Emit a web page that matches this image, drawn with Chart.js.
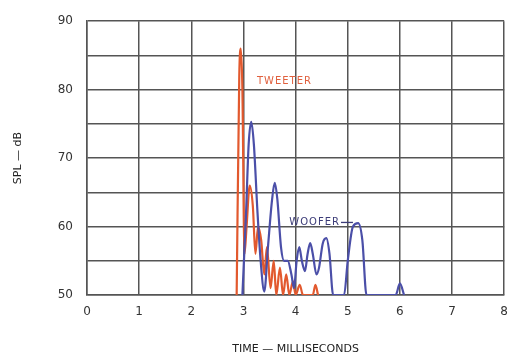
<!DOCTYPE html>
<html>
<head>
<meta charset="utf-8">
<script src="https://cdn.jsdelivr.net/npm/chart.js@4.4.1/dist/chart.umd.min.js"></script>
<style>
  html, body { margin: 0; padding: 0; background: #fff; }
  #wrap { width: 518px; height: 358px; }
</style>
</head>
<body>
<div id="wrap"><canvas id="chart" width="518" height="358"></canvas></div>
<script>
// time in ms, SPL in dB
const tweeterTime = [2.87, 2.92, 2.95, 2.98, 3.02, 3.06, 3.12, 3.18, 3.23, 3.28, 3.34, 3.40, 3.45, 3.52, 3.58, 3.63, 3.70, 3.76, 3.82, 3.88, 3.95, 4.00, 4.08, 4.14, 4.33, 4.38, 4.43];
const tweeterSpl  = [50, 82, 86, 80, 56, 60, 66, 63, 56, 60, 58, 53, 57, 51, 55, 50, 54, 50, 53, 50, 52, 50, 51.5, 50, 50, 51.5, 50];

const wooferTime = [2.98, 3.05, 3.10, 3.15, 3.20, 3.27, 3.33, 3.40, 3.47, 3.55, 3.60, 3.65, 3.72, 3.78, 3.85, 3.92, 3.97, 4.02, 4.07, 4.12, 4.18, 4.23, 4.28, 4.33, 4.40, 4.45, 4.52, 4.59, 4.65, 4.72, 4.93, 5.00, 5.10, 5.20, 5.28, 5.36, 5.92, 6.00, 6.08];
const wooferSpl  = [50, 62, 72, 75.3, 72, 62, 55, 50.5, 57, 64, 66.4, 64, 57, 55, 55, 53, 51, 55, 57, 55, 53.5, 56, 57.6, 56, 53, 54, 57.5, 58.3, 56, 50, 50, 55, 60, 60.5, 58, 50, 50, 51.7, 50];

const xTicks = [0, 1, 2, 3, 4, 5, 6, 7, 8];
const yTicks = [50, 60, 70, 80, 90];

// curve labels placed in data units
const curveLabels = [
  { text: 'TWEETER', x: 3.26, y: 81.2, color: '#e0603e' },
  { text: 'WOOFER', x: 3.88, y: 60.6, color: '#3c3c78', leader: 5.1 }
];

const toPoints = (xs, ys) => xs.map((x, i) => ({ x: x, y: ys[i] }));
const spaced = t => t.split('').join(String.fromCharCode(8202));

const labelPlugin = {
  id: 'curveLabels',
  afterDatasetsDraw(chart) {
    const ctx = chart.ctx;
    const xs = chart.scales.x, ys = chart.scales.y;
    ctx.save();
    ctx.font = '10px "DejaVu Sans"';
    ctx.textBaseline = 'middle';
    curveLabels.forEach(l => {
      const px = xs.getPixelForValue(l.x);
      const py = ys.getPixelForValue(l.y);
      ctx.fillStyle = l.color;
      ctx.fillText(spaced(l.text), px, py);
      if (l.leader) {
        const w = ctx.measureText(spaced(l.text)).width;
        ctx.strokeStyle = l.color;
        ctx.lineWidth = 1.3;
        ctx.beginPath();
        ctx.moveTo(px + w + 2, py);
        ctx.lineTo(xs.getPixelForValue(l.leader), py);
        ctx.stroke();
      }
    });
    ctx.restore();
  }
};

new Chart(document.getElementById('chart'), {
  type: 'line',
  data: {
    datasets: [
      {
        label: 'Woofer',
        data: toPoints(wooferTime, wooferSpl),
        borderColor: '#4b4fa8',
        borderWidth: 2.2,
        pointRadius: 0,
        cubicInterpolationMode: 'monotone',
        fill: false
      },
      {
        label: 'Tweeter',
        data: toPoints(tweeterTime, tweeterSpl),
        borderColor: '#e2592e',
        borderWidth: 2.2,
        pointRadius: 0,
        cubicInterpolationMode: 'monotone',
        fill: false
      }
    ]
  },
  options: {
    responsive: false,
    animation: false,
    layout: { padding: { top: 15, right: 11, left: 0, bottom: 0 } },
    plugins: { legend: { display: false }, tooltip: { enabled: false } },
    scales: {
      x: {
        type: 'linear',
        min: 0, max: 8,
        afterBuildTicks: s => { s.ticks = xTicks.map(v => ({ value: v })); },
        afterFit: s => { s.height = 63; },
        grid: { color: '#555', lineWidth: 1.5, drawTicks: false },
        border: { color: '#555', width: 1.5 },
        ticks: { padding: 10, color: '#333', font: { family: 'DejaVu Sans', size: 12 } },
        title: {
          display: true,
          text: 'TIME — MILLISECONDS',
          color: '#222',
          font: { family: 'DejaVu Sans', size: 11 },
          padding: { top: 0, bottom: 2 }
        }
      },
      y: {
        min: 50, max: 90,
        ticks: {
          stepSize: 5,
          padding: 14,
          color: '#333',
          font: { family: 'DejaVu Sans', size: 12 },
          callback: v => yTicks.includes(v) ? String(v) : ''
        },
        afterFit: s => { s.width = 87; },
        grid: { color: '#555', lineWidth: 1.5, drawTicks: false },
        border: { color: '#555', width: 1.5 },
        title: {
          display: true,
          text: 'SPL — dB',
          color: '#222',
          font: { family: 'DejaVu Sans', size: 11 },
          padding: { top: 12, bottom: 0 }
        }
      }
    }
  },
  plugins: [labelPlugin]
});
</script>
</body>
</html>
